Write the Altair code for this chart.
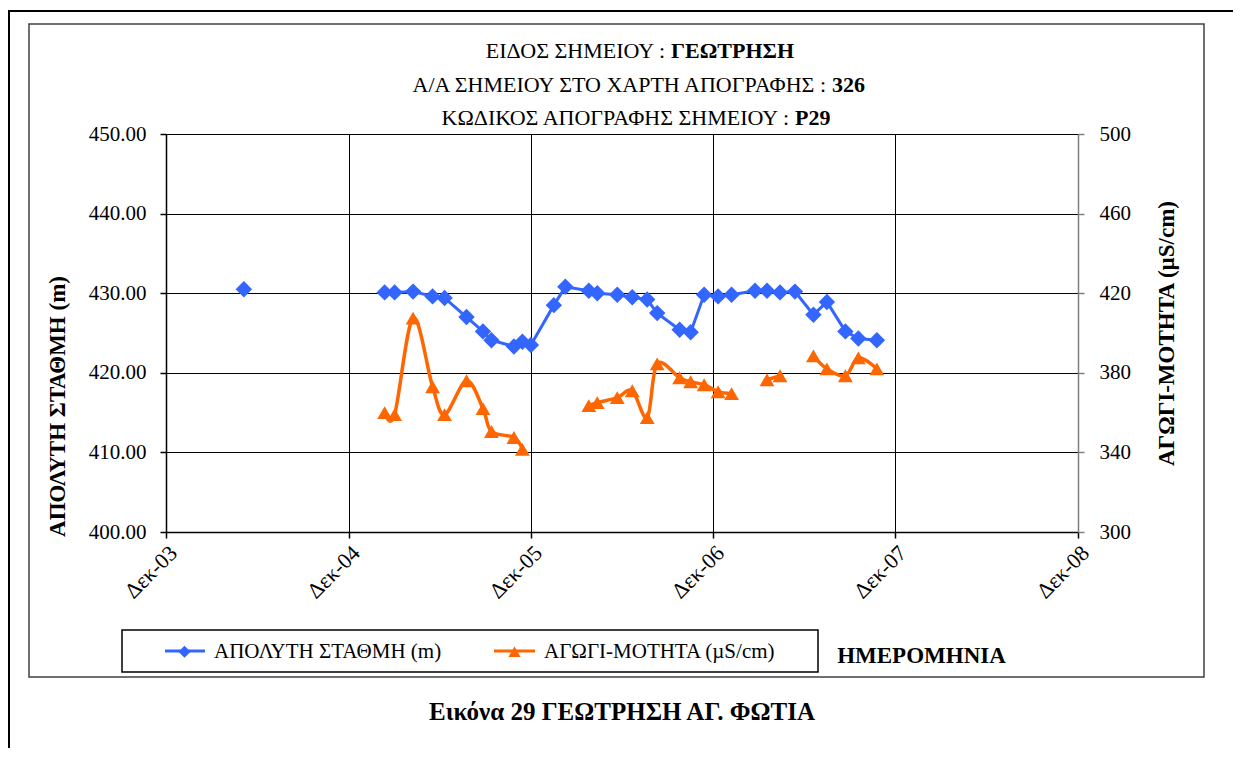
import altair as alt
import pandas as pd

FONT = "'Liberation Serif', 'DejaVu Serif', serif"

# ---------------- data ----------------
dates = [
    "2004-05-05", "2005-02-11", "2005-03-03", "2005-04-09", "2005-05-18", "2005-06-11",
    "2005-07-25", "2005-08-27", "2005-09-13", "2005-10-28", "2005-11-14", "2005-12-01",
    "2006-01-16", "2006-02-08", "2006-03-27", "2006-04-13", "2006-05-23", "2006-06-22",
    "2006-07-22", "2006-08-11", "2006-09-25", "2006-10-17", "2006-11-13", "2006-12-11",
    "2007-01-07", "2007-02-23", "2007-03-19", "2007-04-14", "2007-05-14", "2007-06-20",
    "2007-07-17", "2007-08-23", "2007-09-18", "2007-10-25",
]
level = [
    430.5, 430.1, 430.1, 430.2, 429.6, 429.4,
    427.0, 425.2, 424.1, 423.3, 423.9, 423.5,
    428.5, 430.8, 430.3, 430.0, 429.8, 429.5,
    429.2, 427.5, 425.4, 425.1, 429.8, 429.6,
    429.8, 430.3, 430.3, 430.1, 430.2, 427.3,
    428.9, 425.2, 424.3, 424.1,
]
cond = [
    None, 360.0, 359.0, 407.5, 373.0, 359.0,
    376.0, 362.0, 350.5, 347.5, 341.5, None,
    None, None, 363.5, 365.0, 367.5, 371.0,
    357.5, 384.5, 377.5, 375.5, 374.0, 370.5,
    369.5, None, 376.5, 378.5, None, 388.5,
    382.0, 378.5, 387.5, 382.0,
]
series_names = ["ΑΠΟΛΥΤΗ ΣΤΑΘΜΗ (m)", "ΑΓΩΓΙ-ΜΟΤΗΤΑ (µS/cm)"]
series_colors = ["#3366FF", "#FF6600"]
series_shapes = ["diamond", "triangle-up"]
left_ticks = [400, 410, 420, 430, 440, 450]
right_ticks = [300, 340, 380, 420, 460, 500]
x_tick_years = [2003, 2004, 2005, 2006, 2007, 2008]
title_regular = ["ΕΙΔΟΣ ΣΗΜΕΙΟΥ :", "Α/Α ΣΗΜΕΙΟΥ ΣΤΟ ΧΑΡΤΗ ΑΠΟΓΡΑΦΗΣ :", "ΚΩΔΙΚΟΣ ΑΠΟΓΡΑΦΗΣ ΣΗΜΕΙΟΥ :"]
title_bold = ["ΓΕΩΤΡΗΣΗ", "326", "P29"]
caption = "Εικόνα 29 ΓΕΩΤΡΗΣΗ ΑΓ. ΦΩΤΙΑ"
x_title = "ΗΜΕΡΟΜΗΝΙΑ"
MAX_GAP_DAYS = 180  # longer pauses between readings break the line

# ---------------- tables ----------------
ts = pd.to_datetime(dates)
lv_seg, s, prev = [], 0, None
for t in ts:
    if prev is None or (t - prev).days > MAX_GAP_DAYS:
        s += 1
    lv_seg.append(s)
    prev = t
df_level = pd.DataFrame({"date": ts, "value": level, "seg": lv_seg, "series": series_names[0]})

rows = []
seg = 0
prev_ok = False
for d, c in zip(ts, cond):
    if c is None:
        prev_ok = False
        continue
    if not prev_ok:
        seg += 1
    prev_ok = True
    rows.append({"date": d, "value": c, "seg": seg, "series": series_names[1]})
df_cond = pd.DataFrame(rows)

one = pd.DataFrame({"k": [0]})

# ---------------- encodings ----------------
xticks = [alt.DateTime(year=y, month=12, date=1) for y in x_tick_years]
x_enc = alt.X(
    "date:T",
    scale=alt.Scale(domain=[xticks[0], xticks[-1]]),
    axis=alt.Axis(
        values=xticks,
        labelExpr="'Δεκ-' + timeFormat(datum.value, '%y')",
        labelAngle=-45,
        labelFontSize=22,
        labelPadding=4,
        grid=True, gridColor="black", gridOpacity=1, gridWidth=1,
        domainColor="black", domainWidth=1.5,
        tickColor="black", tickSize=6, tickWidth=1.5,
        title=x_title, titleFontSize=23, titleFontWeight="bold",
        titleX=755, titleY=123, titleAlign="center", titleBaseline="middle",
    ),
)

y_left = alt.Y(
    "value:Q",
    scale=alt.Scale(domain=[left_ticks[0], left_ticks[-1]], nice=False, zero=False),
    axis=alt.Axis(
        orient="left", values=left_ticks, format=".2f",
        grid=True, gridColor="black", gridOpacity=1, gridWidth=1,
        domainColor="black", domainWidth=1.5, tickColor="black", tickSize=6, tickWidth=1.5,
        labelFontSize=21, labelPadding=14,
        title=series_names[0], titleFontSize=23, titleFontWeight="bold",
        titleX=-109, titleY=272, titleAngle=270, titleAlign="center", titleBaseline="middle",
    ),
)
y_right = alt.Y(
    "value:Q",
    scale=alt.Scale(domain=[right_ticks[0], right_ticks[-1]], nice=False, zero=False),
    axis=alt.Axis(
        orient="right", values=right_ticks, format="d", grid=False,
        domainColor="#808080", domainWidth=1.5, tickColor="#808080", tickSize=6, tickWidth=1.5,
        labelFontSize=21, labelPadding=15,
        title=series_names[1], titleFontSize=23, titleFontWeight="bold",
        titleX=88, titleY=199, titleAngle=270, titleAlign="center", titleBaseline="middle",
    ),
)

legend = alt.Legend(
    title=None, orient="none", legendX=8, legendY=507, direction="horizontal",
    labelFont=FONT, labelFontSize=21, labelColor="black", labelOffset=19, labelLimit=500,
    symbolSize=150, symbolStrokeWidth=0, columnPadding=62, padding=0,
)
color_enc = alt.Color("series:N", scale=alt.Scale(domain=series_names, range=series_colors), legend=legend)
shape_enc = alt.Shape("series:N", scale=alt.Scale(domain=series_names, range=series_shapes), legend=legend)

# ---------------- decorations ----------------
def rect(x, x2, y, y2, width, color, fill="white", opacity=1):
    return alt.Chart(one).mark_rect(stroke=color, strokeWidth=width, fill=fill, fillOpacity=opacity).encode(
        x=alt.value(x), x2=alt.value(x2), y=alt.value(y), y2=alt.value(y2)
    )

def txt(s, x, y, size=20, bold=False, align="center"):
    return alt.Chart(one).mark_text(
        text=s, font=FONT, fontSize=size, fontWeight="bold" if bold else "normal",
        align=align, baseline="middle", color="black",
    ).encode(x=alt.value(x), y=alt.value(y))

outer = rect(-157, 1300, -123, 800, 2, "black", opacity=0)
inner = rect(-137, 1038, -110, 543, 1.5, "#404040", opacity=0)
legbox = rect(-44, 652, 496, 538, 1.5, "black", fill="white", opacity=1)
leg_lines = [
    alt.Chart(one).mark_rule(color=c, strokeWidth=3).encode(x=alt.value(a), x2=alt.value(b), y=alt.value(517))
    for c, a, b in [(series_colors[0], -1, 39), (series_colors[1], 328, 369)]
]

title_split = [499, 660, 623]
title_y = [-83, -49, -16]
titles = []
for r, b, sx, ty in zip(title_regular, title_bold, title_split, title_y):
    titles.append(txt(r, sx, ty, 22, False, "right"))
    titles.append(txt(b, sx + 6, ty, 22, True, "left"))

cap = txt(caption, 456, 578, 25, True, "center")

# ---------------- data layers ----------------
blue_line = alt.Chart(df_level).mark_line(color=series_colors[0], strokeWidth=3).encode(
    x=x_enc, y=y_left, detail="seg:N"
)
blue_pts = alt.Chart(df_level).mark_point(filled=True, size=270, opacity=1).encode(
    x=x_enc, y=y_left, color=color_enc, shape=shape_enc
)
orange_line = alt.Chart(df_cond).mark_line(color=series_colors[1], strokeWidth=3.5, interpolate="cardinal").encode(
    x=x_enc, y=y_right, detail="seg:N"
)
orange_pts = alt.Chart(df_cond).mark_point(filled=True, size=220, opacity=1).encode(
    x=x_enc, y=y_right, color=color_enc, shape=shape_enc
)

left = alt.layer(blue_line, blue_pts)
right = alt.layer(orange_line, orange_pts)

chart = alt.layer(
    outer, inner, legbox, *leg_lines, *titles, cap, left, right
).resolve_scale(y="independent").properties(
    width=912, height=398,
    autosize=alt.AutoSizeParams(type="none"),
    padding={"left": 158, "top": 126, "right": 155, "bottom": 216},
    background="white",
).configure(font=FONT).configure_axis(
    labelFont=FONT, titleFont=FONT, labelColor="black", titleColor="black"
).configure_view(strokeWidth=0)

chart.save("out.html", embed_options={"renderer": "svg", "actions": False})
